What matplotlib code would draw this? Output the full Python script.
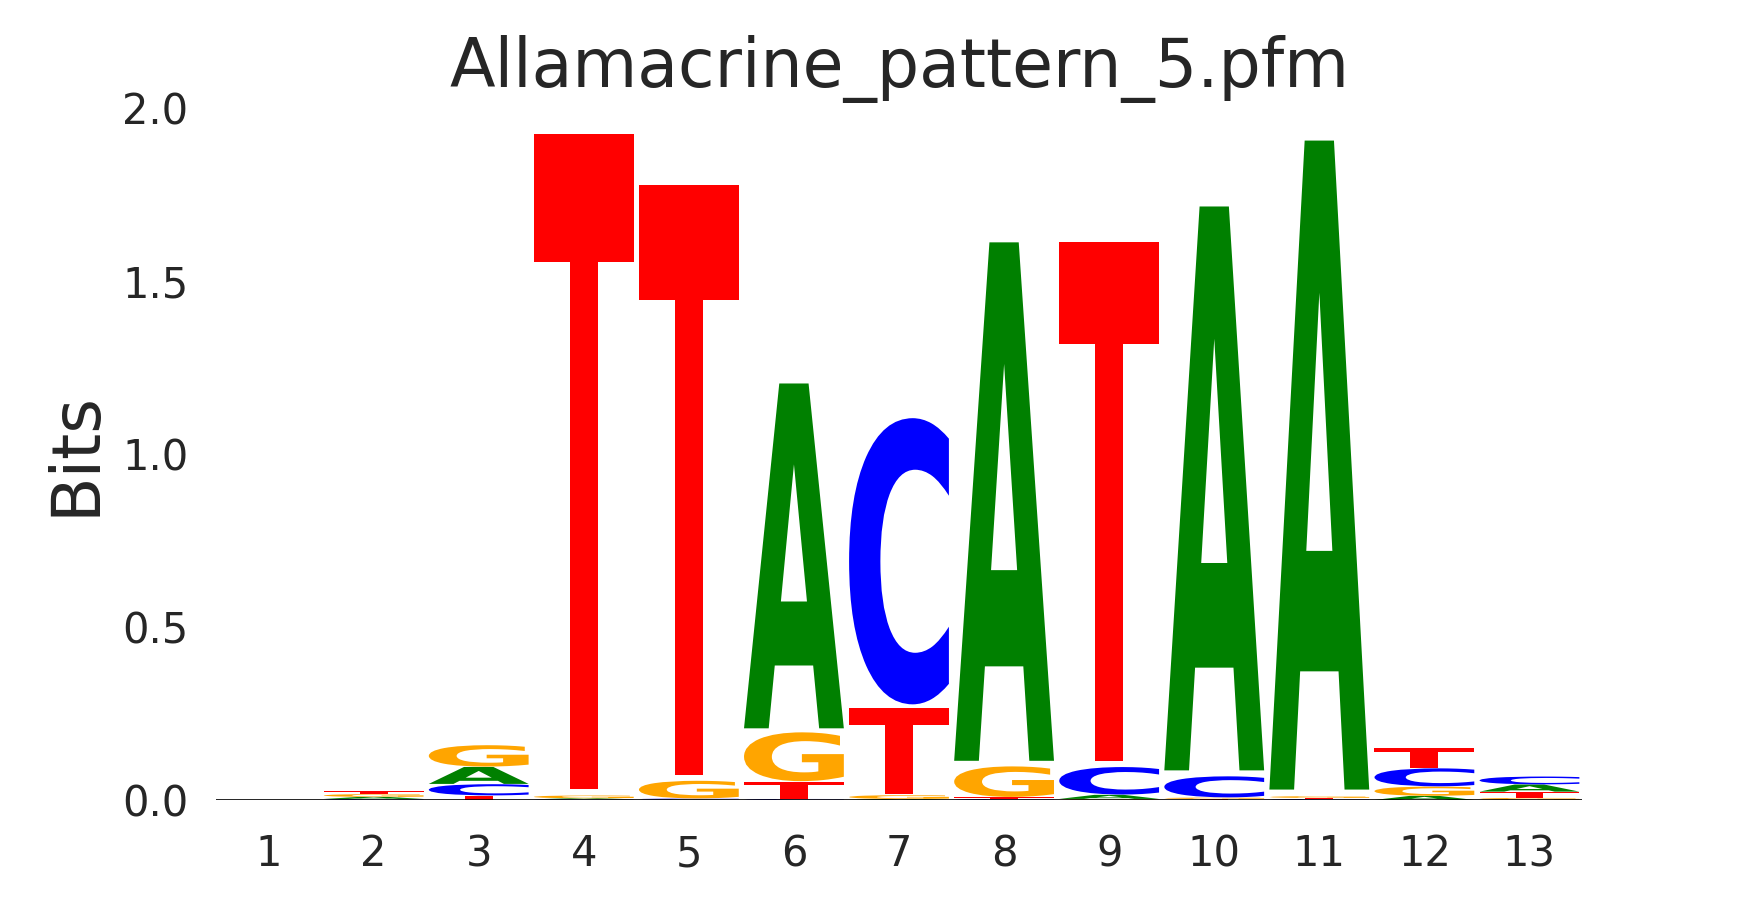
import matplotlib
matplotlib.use('Agg')
from matplotlib import pyplot as plt
from matplotlib.textpath import TextPath
from matplotlib.patches import PathPatch
from matplotlib.font_manager import FontProperties
from matplotlib.transforms import Affine2D

title       = 'Allamacrine_pattern_5.pfm'
positions   = list(range(1, 14))
letters     = ['A', 'C', 'G', 'T']
colors      = {'A': '#008000', 'C': '#0000ff', 'G': '#ffa500', 'T': '#ff0000'}

# information (bits) per letter, per position
bits_A  = [0.0, 0.006, 0.050, 0.003, 0.001, 1.017, 0.003, 1.529, 0.012, 1.663, 1.914, 0.012, 0.021]
bits_C  = [0.0, 0.003, 0.033, 0.002, 0.003, 0.003, 0.844, 0.003, 0.081, 0.062, 0.003, 0.053, 0.023]
bits_G  = [0.0, 0.008, 0.063, 0.008, 0.052, 0.144, 0.011, 0.090, 0.003, 0.004, 0.005, 0.027, 0.006]
bits_T  = [0.0, 0.009, 0.013, 1.931, 1.738, 0.050, 0.254, 0.005, 1.531, 0.003, 0.003, 0.058, 0.018]
bits    = {'A': bits_A, 'C': bits_C, 'G': bits_G, 'T': bits_T}

yticks      = [0.0, 0.5, 1.0, 1.5, 2.0]
text_color  = '#262626'
vpad        = 0.02

fp = FontProperties(family='DejaVu Sans', weight='bold')


def draw_letter(ax, ch, x, y0, h, color, width=0.95):
    path    = TextPath((0, 0), ch, size=1, prop=fp)
    ext     = path.get_extents()
    gh      = h*(1-vpad)
    tr      = Affine2D().translate(-ext.x0, -ext.y0).scale(width/ext.width, gh/ext.height)
    tr      = tr.translate(x-width/2, y0+h*vpad/2)
    ax.add_patch(PathPatch(tr.transform_path(path), facecolor=color, edgecolor='none', lw=0))


fig = plt.figure(figsize=(17.55, 9), dpi=100)
ax  = fig.add_axes([216/1755, 100/900, 1366/1755, 692/900])

for i, pos in enumerate(positions):
    stack   = sorted(letters, key=lambda l: bits[l][i])
    y0      = 0.0
    for l in stack:
        h = bits[l][i]
        if h <= 0:
            continue
        draw_letter(ax, l, pos, y0, h, colors[l])
        y0 += h

ax.axhline(0, color='black', lw=1.2, zorder=5)
ax.set_xlim(0.5, 13.5)
ax.set_ylim(0, 2.0)
ax.set_xticks(positions)
ax.set_xticklabels([str(p) for p in positions])
ax.set_yticks(yticks)
ax.set_yticklabels(['{:.1f}'.format(v) for v in yticks])
for s in ax.spines.values():
    s.set_visible(False)
ax.tick_params(axis='x', length=0, pad=24, labelsize=30, labelcolor=text_color)
ax.tick_params(axis='y', length=0, pad=20, labelsize=30, labelcolor=text_color)
ax.set_ylabel('Bits', fontsize=48, color=text_color, labelpad=10)
ax.text(0.5, 1.031, title, transform=ax.transAxes, ha='center', va='baseline',
        fontsize=48, color=text_color)

fig.savefig('out.png', dpi=100)
